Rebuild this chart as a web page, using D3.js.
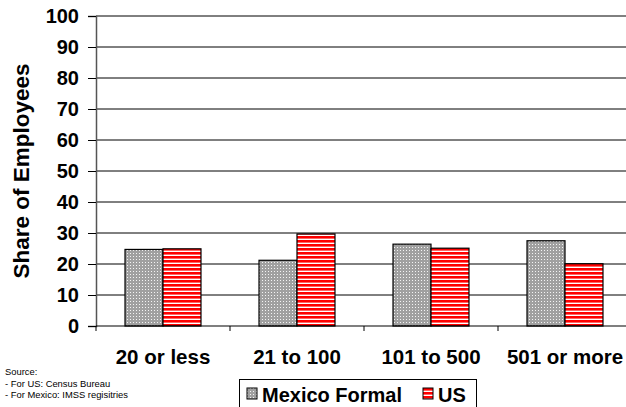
<!DOCTYPE html>
<html><head><meta charset="utf-8">
<script src="https://cdn.jsdelivr.net/npm/d3@7"></script>
<style>body{margin:0;background:#fff}svg{display:block;font-family:"Liberation Sans",Arial,sans-serif}</style>
</head><body><svg id="c" width="626" height="407"></svg>
<script>
const categories = ["20 or less", "21 to 100", "101 to 500", "501 or more"];
const seriesNames = ["Mexico Formal", "US"];
const mexicoFormal = [24.7, 21.2, 26.4, 27.5];
const us = [24.9, 29.7, 25.1, 20.1];
const yTicks = [0,10,20,30,40,50,60,70,80,90,100];
const sourceLines = ["Source:", "- For US: Census Bureau", "- For Mexico: IMSS regisitries"];

const svg = d3.select("#c");
const defs = svg.append("defs");
const pg = defs.append("pattern").attr("id","pGray").attr("patternUnits","userSpaceOnUse").attr("width",3).attr("height",3);
pg.append("rect").attr("width",3).attr("height",3).attr("fill","#a0a0a0");
pg.append("rect").attr("x",1).attr("y",1).attr("width",1).attr("height",1).attr("fill","#f4f4f4");
const pr = defs.append("pattern").attr("id","pRed").attr("patternUnits","userSpaceOnUse").attr("width",4).attr("height",4);
pr.append("rect").attr("width",4).attr("height",4).attr("fill","#ffffff");
pr.append("rect").attr("y",0).attr("width",4).attr("height",2.6).attr("fill","#ff0000");

const mLeft = 96, mRight = 632, mTop = 16, mBottom = 326;
const x = d3.scaleBand().domain(categories).range([mLeft, mRight]).paddingInner(0.433).paddingOuter(0.2165);
const y = d3.scaleLinear().domain([0,100]).range([mBottom, mTop]);
const bw = x.bandwidth()/2;

// gridlines
svg.append("g").selectAll("line").data(yTicks.slice(1)).join("line")
  .attr("x1", mLeft).attr("x2", 626).attr("y1", d=>y(d)).attr("y2", d=>y(d))
  .attr("stroke","#000").attr("stroke-width",1);

const fills = ["url(#pGray)","url(#pRed)"];
const data = [mexicoFormal, us];
data.forEach((vals, si) => {
  svg.append("g").selectAll("rect").data(vals).join("rect")
    .attr("x", (d,i)=> x(categories[i]) + si*bw)
    .attr("y", d=>y(d)).attr("width", bw).attr("height", d=>mBottom - y(d))
    .attr("fill", fills[si]).attr("stroke","#000").attr("stroke-width",1.2);
});

// y axis
const ya = svg.append("g").attr("transform",`translate(${mLeft},0)`)
  .call(d3.axisLeft(y).tickValues(yTicks).tickSize(8).tickPadding(9));
ya.select(".domain").attr("stroke","#555").attr("stroke-width",1.5);
ya.selectAll(".tick line").attr("stroke","#000");
ya.selectAll("text").attr("font-size",20).attr("font-weight","bold").attr("fill","#000").attr("font-family","Liberation Sans, Arial");

// x axis
const xa = svg.append("g").attr("transform",`translate(0,${mBottom})`);
xa.append("line").attr("x1",mLeft).attr("x2",626).attr("y1",0).attr("y2",0).attr("stroke","#000").attr("stroke-width",1.2);
const bounds = categories.map(c => x(c) - x.step()*x.paddingInner()/2).concat([x(categories[3]) + x.bandwidth() + x.step()*x.paddingInner()/2]);
xa.selectAll("line.t").data(bounds.filter(b=>b<626)).join("line").attr("class","t")
  .attr("x1",d=>d).attr("x2",d=>d).attr("y1",0).attr("y2",5).attr("stroke","#000");
xa.selectAll("text").data(categories).join("text")
  .attr("x", d=>x(d)+x.bandwidth()/2).attr("y",38).attr("text-anchor","middle")
  .attr("font-size",20.5).attr("font-weight","bold").text(d=>d);

// y title
svg.append("text").attr("transform","translate(29,171) rotate(-90)").attr("text-anchor","middle")
  .attr("font-size",22.5).attr("font-weight","bold").text("Share of Employees");

// source
svg.append("g").selectAll("text").data(sourceLines).join("text")
  .attr("x",5).attr("y",(d,i)=>375+i*11.5).attr("font-size",9.4).text(d=>d);

// legend
const lg = svg.append("g");
lg.append("rect").attr("x",239.5).attr("y",379.5).attr("width",237).attr("height",40).attr("fill","#fff").attr("stroke","#000");
lg.append("rect").attr("x",247).attr("y",388).attr("width",10).attr("height",11).attr("fill",fills[0]).attr("stroke","#000");
lg.append("text").attr("x",262).attr("y",402).attr("font-size",20).attr("font-weight","bold").text(seriesNames[0]);
lg.append("rect").attr("x",423).attr("y",388).attr("width",10).attr("height",11).attr("fill",fills[1]).attr("stroke","#000");
lg.append("text").attr("x",438).attr("y",402).attr("font-size",20).attr("font-weight","bold").text(seriesNames[1]);
</script></body></html>
